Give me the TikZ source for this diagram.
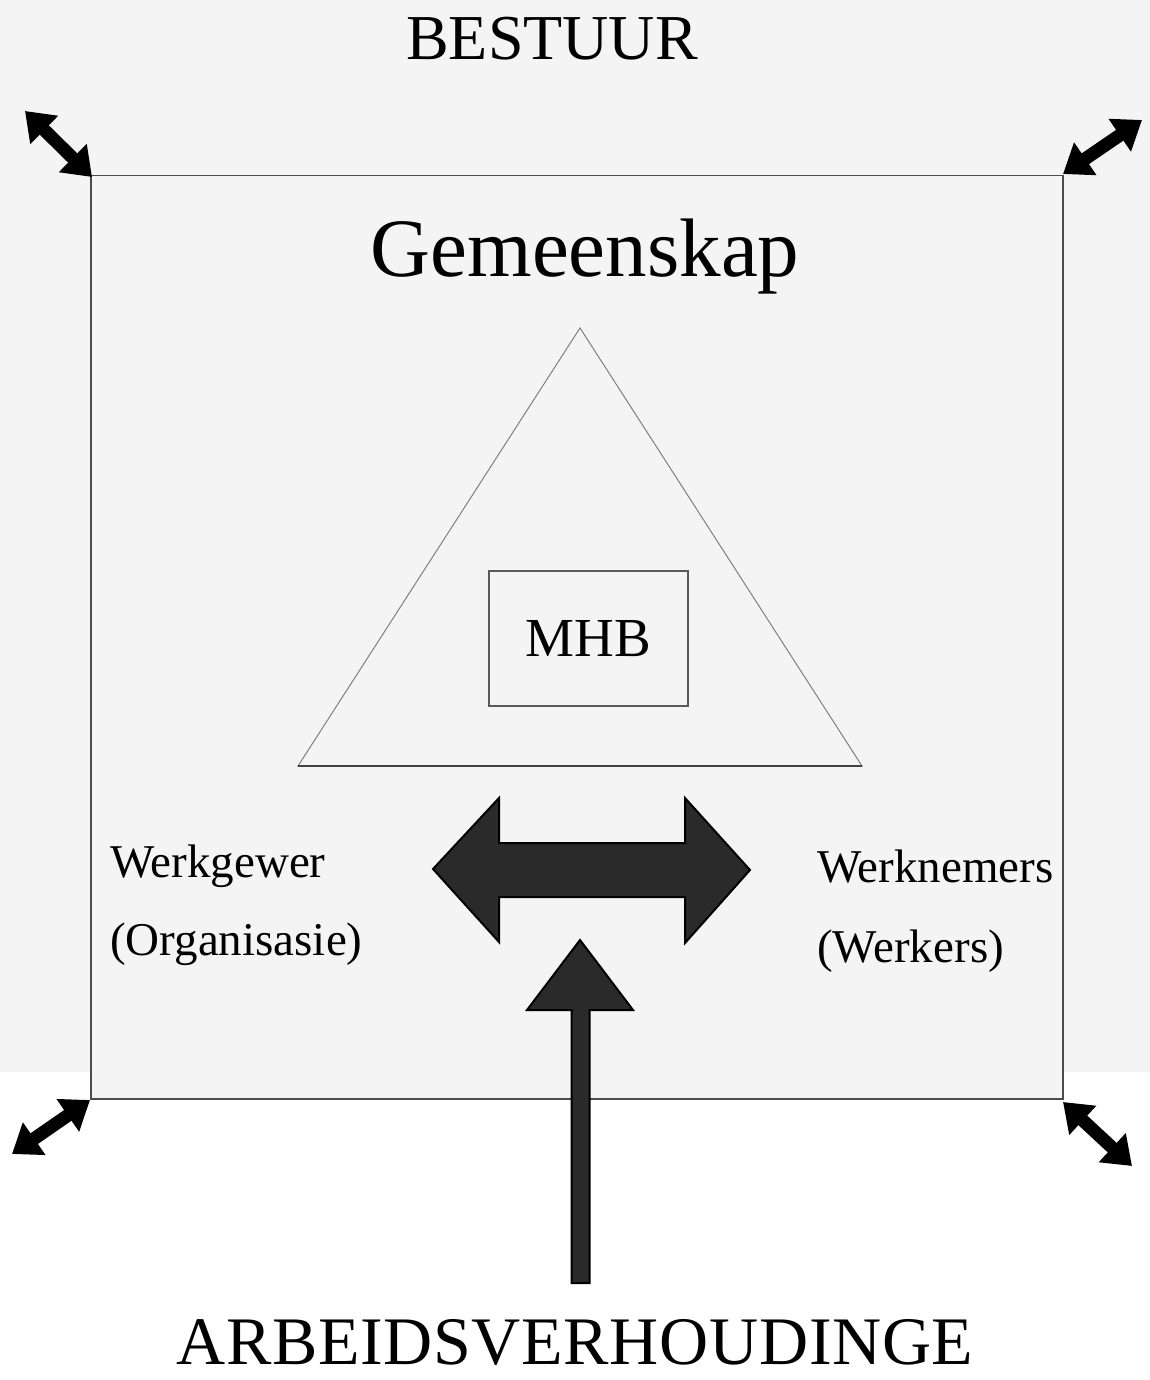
\documentclass[tikz,border=0pt]{standalone}
\usepackage{fontspec}
\setmainfont{Liberation Serif}
\usetikzlibrary{arrows.meta}
\definecolor{bg}{RGB}{244,244,244}
\definecolor{arrowfill}{RGB}{42,42,42}
\tikzset{
  lbl/.style={inner sep=0pt, text=black},
  cornerarrow/.style={line width=13pt, black,
    {Triangle[width=38pt,length=27pt]}-{Triangle[width=38pt,length=27pt]}},
  blockarrow/.style={fill=arrowfill, draw=black, line width=2pt, line join=miter},
}
\begin{document}
\begin{tikzpicture}[x=1pt,y=-1pt]
\useasboundingbox (0,0) rectangle (1150,1380);
% background
\fill[white] (0,0) rectangle (1150,1380);
\fill[bg] (0,0) rectangle (1150,1072);
\fill[bg] (90,1072) rectangle (1062,1098);
% frame
\node[draw=black!70, line width=1.5pt, minimum width=972pt, minimum height=923pt, inner sep=0pt, anchor=north west] (frame) at (90,175) {};
% titles
\node[lbl, font=\fontsize{64}{64}\selectfont, anchor=base] (bestuur) at (552,60) {BESTUUR};
\node[lbl, font=\fontsize{83}{83}\selectfont, anchor=base] (gem) at (585,276) {Gemeenskap};
\node[lbl, font=\fontsize{68}{68}\selectfont, anchor=base] (arb) at (575,1364) {\addfontfeature{LetterSpace=1}ARBEIDSVERHOUDINGE};
% triangle
\coordinate (apex) at (580,328);
\coordinate (bl) at (298,766);
\coordinate (br) at (862,766);
\draw[black!50, line width=1pt] (apex) -- (br) -- (bl) -- cycle;
\draw[black!75, line width=1.5pt] (bl) -- (br);
% MHB box
\node[draw=black!65, line width=1.2pt, minimum width=199pt, minimum height=135pt, inner sep=0pt,
      font=\fontsize{55}{55}\selectfont] (mhb) at (588.5,638.5) {MHB};
% side labels
\node[lbl, font=\fontsize{47}{47}\selectfont, anchor=base west] (wg) at (110,877) {Werkgewer};
\node[lbl, font=\fontsize{47}{47}\selectfont, anchor=base west] (org) at (110,955) {(Organisasie)};
\node[lbl, font=\fontsize{47}{47}\selectfont, anchor=base west] (wn) at (817,882) {Werknemers};
\node[lbl, font=\fontsize{47}{47}\selectfont, anchor=base west] (wk) at (817,962) {(Werkers)};
% horizontal double block arrow
\coordinate (ltip) at (433,869);
\coordinate (rtip) at (750,870);
\draw[blockarrow] (ltip) -- (499,798) -- (499,843) -- (685,843) -- (685,798) -- (rtip)
  -- (685,943) -- (685,897) -- (499,897) -- (499,942) -- cycle;
% vertical arrow
\coordinate (vtip) at (580,940);
\coordinate (vbase) at (580,1283);
\draw[blockarrow] (vtip) -- (633,1010) -- (589.5,1010) -- (589.5,1283) -- (571.5,1283) -- (571.5,1010) -- (527,1010) -- cycle;
% corner arrows
\coordinate (tl1) at (25,111); \coordinate (tl2) at (92,177);
\coordinate (tr1) at (1063,174); \coordinate (tr2) at (1142,120);
\coordinate (bl1) at (90,1100); \coordinate (bl2) at (12,1154);
\coordinate (br1) at (1063,1102); \coordinate (br2) at (1132,1166);
\draw[cornerarrow] (tl1) -- (tl2);
\draw[cornerarrow] (tr1) -- (tr2);
\draw[cornerarrow] (bl1) -- (bl2);
\draw[cornerarrow] (br1) -- (br2);
\end{tikzpicture}
\end{document}
